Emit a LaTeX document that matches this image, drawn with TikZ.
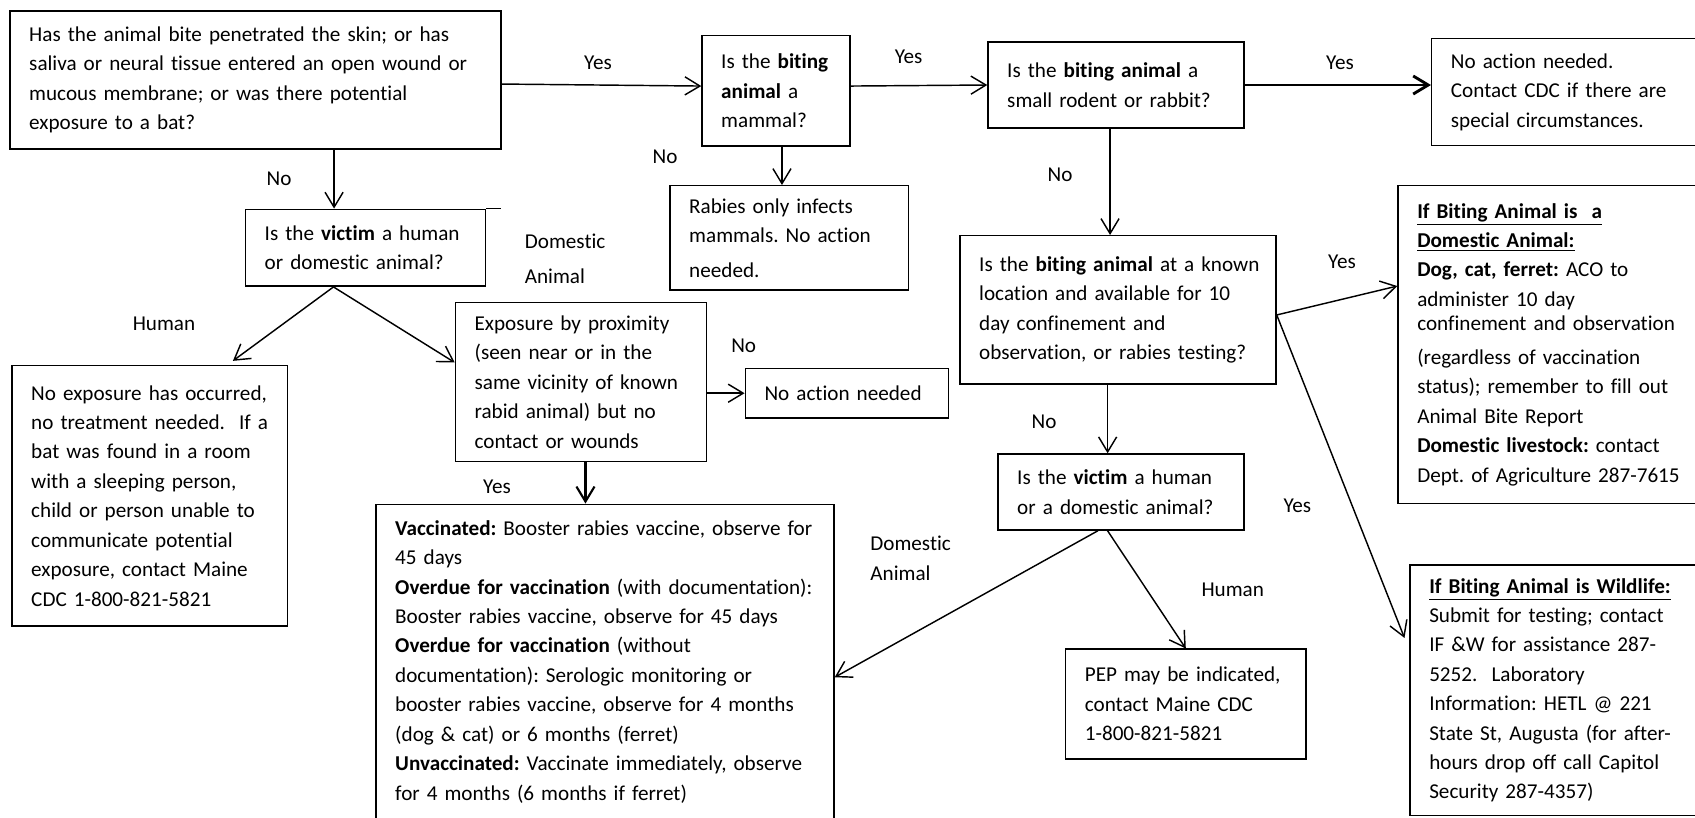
\documentclass[tikz,border=0pt]{standalone}
\usepackage{fontspec}
\setmainfont{Carlito}[Ligatures=NoCommon]
\usetikzlibrary{arrows.meta}
\frenchspacing

\tikzset{
  box/.style 2 args={draw, line width=0.75pt, align=left,
    font=\fontsize{11}{15.3}\selectfont, inner xsep=10pt, inner ysep=2pt,
    minimum width=#1*0.52pt, minimum height=#2*0.52pt,
    text width=#1*0.52pt-20pt,
    execute at begin node={\rightskip=-14pt plus 1fil}},
  lbl/.style={inner sep=0pt, font=\fontsize{11}{15.3}\selectfont},
  arr/.style={-{Straight Barb[length=7.8pt,width=9.4pt]}, line width=0.75pt},
}

\begin{document}
\begin{tikzpicture}[x=0.52pt,y=-0.52pt]
  \useasboundingbox (0,0) rectangle (1695,817);

  % Questions and outcomes
  \node[box={491}{138}, line width=1pt] (bite) at (255.5,80)
    {Has the animal bite penetrated the skin; or has\\saliva or neural tissue entered an open wound or\\mucous membrane; or was there potential\\exposure to a bat?};
  \node[box={240.2}{76.9}] (victimA) at (365.6,247.75)
    {Is the \textbf{victim} a human\\or domestic animal?};
  \draw[line width=0.75pt] (victimA.north east) -- ++(14.3,0);
  \node[box={148}{110.3}] (mammal) at (776,90.85)
    {Is the \textbf{biting}\\\textbf{animal} a\\mammal?};
  \node[box={256}{86}] (rodent) at (1116,85)
    {Is the \textbf{biting animal} a\\small rodent or rabbit?};
  \node[box={288.3}{107.4}] (noactA) at (1575.85,92)
    {No action needed.\\Contact CDC if there are\\special circumstances.};
  \node[box={238.6}{104.3}] (onlymammal) at (789.3,237.85)
    {Rabies only infects\\mammals. No action\\[2.6pt]needed.};
  \node[box={316}{148.1}] (known) at (1118,309.75)
    {Is the \textbf{biting animal} at a known\\location and available for 10\\day confinement and\\observation, or rabies testing?};
  \node[box={322}{317.6}] (domestic) at (1559,344.5)
    {\underline{\textbf{If Biting Animal is~ a}}\\\underline{\textbf{Domestic Animal:}}\\\textbf{Dog, cat, ferret:} ACO to\\administer 10 day\\[-2.8pt]confinement and observation\\[2.5pt](regardless of vaccination\\status); remember to fill out\\Animal Bite Report\\\textbf{Domestic livestock:} contact\\Dept. of Agriculture 287-7615};
  \node[box={250.9}{159.2}] (proximity) at (580.85,381.9)
    {Exposure by proximity\\(seen near or in the\\same vicinity of known\\rabid animal) but no\\contact or wounds};
  \node[box={203.3}{49.6}] (noactB) at (846.95,393.2) {No action needed};
  \node[box={275.3}{260.3}] (noexp) at (149.65,495.75)
    {No exposure has occurred,\\no treatment needed.~ If a\\bat was found in a room\\with a sleeping person,\\child or person unable to\\communicate potential\\exposure, contact Maine\\CDC 1-800-821-5821};
  \node[box={458}{314.7}] (vacc) at (605,661.65)
    {\textbf{Vaccinated:} Booster rabies vaccine, observe for\\45 days\\\textbf{Overdue for vaccination} (with documentation):\\Booster rabies vaccine, observe for 45 days\\\textbf{Overdue for vaccination} (without\\documentation): Serologic monitoring or\\booster rabies vaccine, observe for 4 months\\(dog \& cat) or 6 months (ferret)\\\textbf{Unvaccinated:} Vaccinate immediately, observe\\for 4 months (6 months if ferret)};
  \node[box={246}{76}] (victimB) at (1121,492)
    {Is the \textbf{victim} a human\\or a domestic animal?};
  \node[box={240.4}{109.6}] (pep) at (1185.8,704)
    {PEP may be indicated,\\contact Maine CDC\\1-800-821-5821};
  \node[box={310}{250.5}] (wildlife) at (1565,690.25)
    {\underline{\textbf{If Biting Animal is Wildlife:}}\\Submit for testing; contact\\IF \&W for assistance 287-\\5252.~ Laboratory\\Information: HETL @ 221\\State St, Augusta (for after-\\hours drop off call Capitol\\Security 287-4357)};

  % Branch labels
  \node[lbl] (yesA) at (598,63) {Yes};
  \node[lbl] (noA) at (279,179) {No};
  \node[lbl, anchor=west, align=left] (domA) at (524.5,259.2) {Domestic\\[2.9pt]Animal};
  \node[lbl] (noB) at (665,156.7) {No};
  \node[lbl] (yesB) at (908.6,56.7) {Yes};
  \node[lbl] (yesC) at (1340,62.7) {Yes};
  \node[lbl] (noC) at (1060,175) {No};
  \node[lbl] (yesD) at (1342,261.7) {Yes};
  \node[lbl] (humanA) at (164,323.8) {Human};
  \node[lbl] (noD) at (743.7,345.8) {No};
  \node[lbl] (yesE) at (497,487.2) {Yes};
  \node[lbl] (noE) at (1044,421.4) {No};
  \node[lbl] (yesF) at (1297.4,505.3) {Yes};
  \node[lbl, anchor=west, align=left] (domB) at (870,558.3) {Domestic\\Animal};
  \node[lbl] (humanB) at (1232.7,590) {Human};

  % Connectors
  \coordinate (forkA) at ([xshift=-16.7pt]victimA.south);
  \coordinate (forkB) at ([yshift=-2.7pt]known.east);
  \draw[arr] ([yshift=-2.1pt]bite.east) -- ([yshift=2.5pt]mammal.west);
  \draw[arr] ([xshift=-16.4pt]victimA.north |- bite.south) -- ([xshift=-16.4pt]victimA.north);
  \draw[arr] ([yshift=2.5pt]mammal.east) -- (rodent.west);
  \draw[arr, line width=1.5pt] (rodent.east) -- (rodent.east -| noactA.west);
  \draw[arr] ([xshift=3.1pt]mammal.south) -- ([xshift=3.1pt]mammal.south |- onlymammal.north);
  \draw[arr] ([xshift=-3.1pt]rodent.south) -- ([xshift=-3.1pt]rodent.south |- known.north);
  \draw[arr] (forkA) -- ([xshift=43.3pt,yshift=2.1pt]noexp.north);
  \draw[arr] (forkA) -- ([yshift=10.1pt]proximity.west);
  \draw[arr] (proximity.east |- noactB.west) -- (noactB.west);
  \draw[arr, line width=1.1pt] ([xshift=2.4pt]proximity.south) -- ([xshift=2.4pt]proximity.south |- vacc.north);
  \draw[arr] ([xshift=-5.4pt]known.south) -- ([xshift=-5.4pt]known.south |- victimB.north);
  \draw[arr] (forkB) -- ([yshift=30.4pt]domestic.west);
  \draw[arr] (forkB) -- ([xshift=-2.5pt,yshift=27.2pt]wildlife.west);
  \draw[arr] ([xshift=-12pt]victimB.south) -- ([yshift=-8.1pt]vacc.east);
  \draw[arr] ([xshift=-7pt]victimB.south) -- (pep.north);
\end{tikzpicture}
\end{document}
